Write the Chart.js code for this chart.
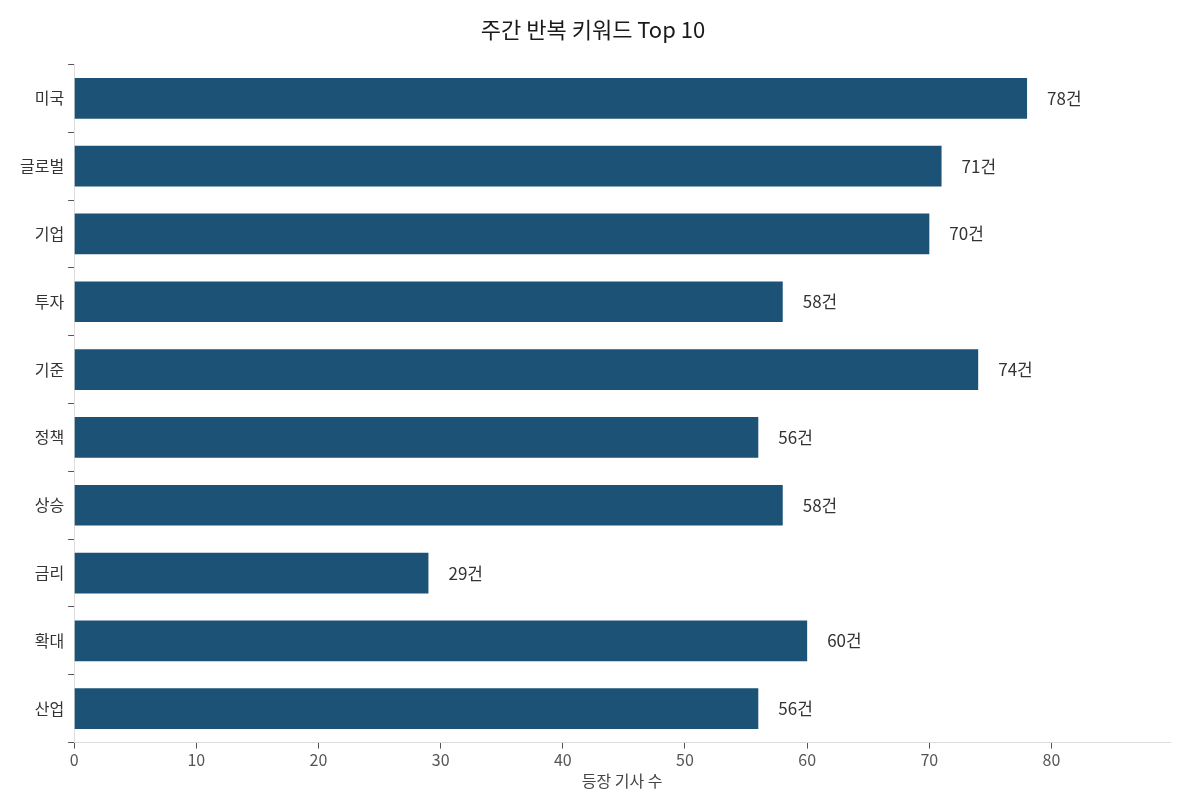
<!DOCTYPE html>
<html><head><meta charset="utf-8">
<script src="https://cdn.jsdelivr.net/npm/chart.js@4"></script>
<style>body{margin:0;background:#fff}#w{width:1185px;height:809px}</style>
</head><body><div id="w"><canvas id="c"></canvas></div>
<script>
const categories=["미국","글로벌","기업","투자","기준","정책","상승","금리","확대","산업"];
const values=[78,71,70,58,74,56,58,29,60,56];
const xTicks=[0,10,20,30,40,50,60,70,80];
const font="'Noto Sans CJK KR','Noto Sans',sans-serif";
const labelPlugin={id:'lbl',afterDatasetsDraw(ch){const ctx=ch.ctx;const m=ch.getDatasetMeta(0);ctx.save();ctx.font="17px "+font;ctx.fillStyle="#333";ctx.textBaseline="middle";m.data.forEach((b,i)=>{ctx.fillText(values[i]+"건",b.x+20,b.y);});ctx.restore();}};
new Chart(document.getElementById('c'),{type:'bar',
data:{labels:categories,datasets:[{data:values,backgroundColor:'#1b5276',barPercentage:0.6,categoryPercentage:1}]},
options:{indexAxis:'y',responsive:true,maintainAspectRatio:false,animation:false,
layout:{padding:{left:16,right:15,top:10,bottom:14}},
plugins:{legend:{display:false},tooltip:{enabled:false},title:{display:true,text:'주간 반복 키워드 Top 10',color:'#1a1a1a',font:{family:font,size:22,weight:'normal'},padding:{top:6,bottom:22}}},
scales:{x:{min:0,max:89.7,afterBuildTicks(a){a.ticks=xTicks.map(v=>({value:v}));},grid:{display:true,drawOnChartArea:false,drawTicks:true,tickLength:6,tickColor:'#555'},border:{color:'#ddd'},ticks:{color:'#555',padding:2,font:{family:font,size:16}},title:{display:true,text:'등장 기사 수',color:'#444',font:{family:font,size:16},padding:{top:0}}},
y:{grid:{display:true,drawOnChartArea:false,tickLength:6,tickColor:'#555'},border:{color:'#ddd'},ticks:{color:'#333',padding:4,font:{family:font,size:16}}}}},
plugins:[labelPlugin]});
</script></body></html>
